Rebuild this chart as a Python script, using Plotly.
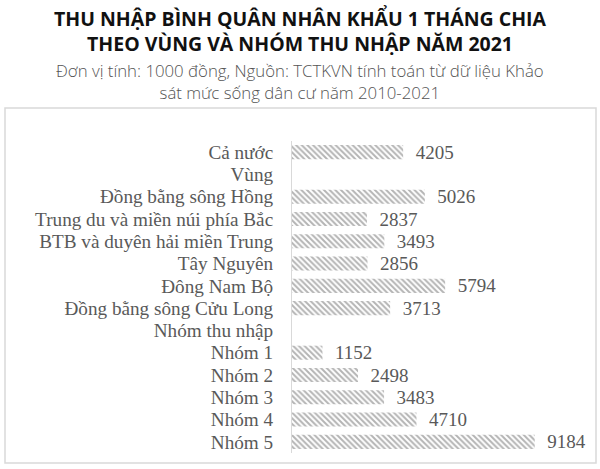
import plotly.graph_objects as go

categories = ["Cả nước", "Vùng", "Đồng bằng sông Hồng", "Trung du và miền núi phía Bắc",
              "BTB và duyên hải miền Trung", "Tây Nguyên", "Đông Nam Bộ",
              "Đồng bằng sông Cửu Long", "Nhóm thu nhập", "Nhóm 1", "Nhóm 2",
              "Nhóm 3", "Nhóm 4", "Nhóm 5"]
values = [4205, None, 5026, 2837, 3493, 2856, 5794, 3713, None, 1152, 2498, 3483, 4710, 9184]
labels = ["\u00a0\u00a0" + f"{v}" if v is not None else "" for v in values]

title_text = "THU NHẬP BÌNH QUÂN NHÂN KHẨU 1 THÁNG CHIA<br>THEO VÙNG VÀ NHÓM THU NHẬP NĂM 2021"
subtitle_text = "Đơn vị tính: 1000 đồng, Nguồn: TCTKVN tính toán từ dữ liệu Khảo<br>sát mức sống dân cư năm 2010-2021"

W, H = 600, 469
L, R, T, B = 292, 23, 141, 16
pw, ph = W - L - R, H - T - B
xmax = pw / 0.02643

def px_x(x):
    return (x - L) / pw

def px_y(y):
    return (H - B - y) / ph

fig = go.Figure(go.Bar(
    y=categories, x=values, orientation="h",
    text=labels, textposition="outside", constraintext="none",
    textfont=dict(family="Liberation Serif", size=19, color="#595959"),
    marker=dict(color="white", line=dict(width=0),
                pattern=dict(shape="\\", fgcolor="#6a6a6a", bgcolor="#ffffff",
                             size=4, solidity=0.5, fillmode="overlay")),
    cliponaxis=False,
    hoverinfo="skip",
))

annotations = [
    dict(text=f"<b>{title_text}</b>", xref="paper", yref="paper",
         x=px_x(300), y=px_y(3), xanchor="center", yanchor="top",
         showarrow=False, align="center",
         font=dict(family="Open Sans", size=19.5, color="#111111")),
    dict(text=subtitle_text, xref="paper", yref="paper",
         x=px_x(300), y=px_y(57), xanchor="center", yanchor="top",
         showarrow=False, align="center",
         font=dict(family="Open Sans", size=16.8, color="#555555", weight=300)),
]

fig.update_layout(
    width=W, height=H,
    margin=dict(l=L, r=R, t=T, b=B, autoexpand=False),
    paper_bgcolor="white", plot_bgcolor="white",
    bargap=0.37,
    showlegend=False,
    xaxis=dict(range=[0, xmax], visible=False, fixedrange=True),
    yaxis=dict(autorange="reversed", automargin=False,
               tickmode="linear", tick0=0, dtick=1,
               tickfont=dict(family="Liberation Serif", size=19.2, color="#595959"),
               showline=True, linecolor="#d9d9d9", linewidth=1, ticks="",
               ticklabelstandoff=14, showgrid=False, fixedrange=True),
    shapes=[
        dict(type="rect", xref="paper", yref="paper",
             x0=px_x(5), x1=px_x(596), y0=px_y(463), y1=px_y(108),
             line=dict(color="#d9d9d9", width=1.5), fillcolor="rgba(0,0,0,0)", layer="below"),
    ],
    annotations=annotations,
)

fig.write_html("out.html", config={"displayModeBar": False},
               post_script="document.body.style.margin='0px';")
